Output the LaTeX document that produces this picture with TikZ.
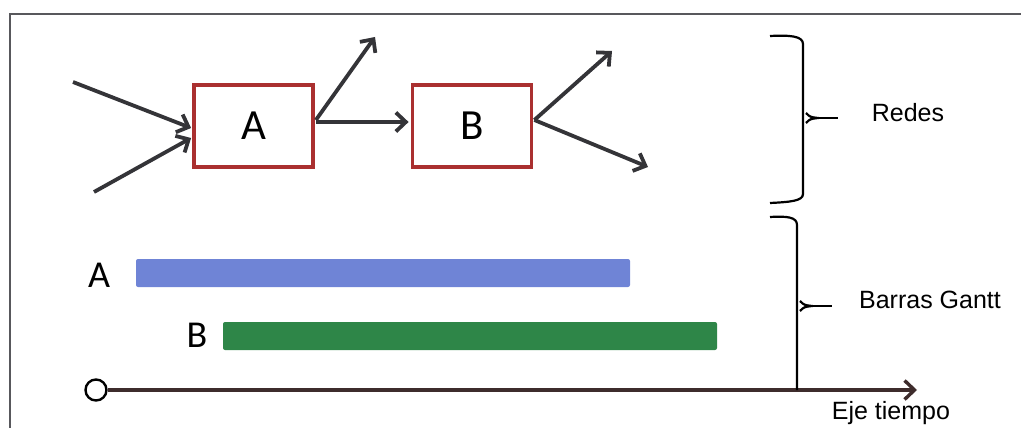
\documentclass[tikz,border=0pt]{standalone}
\usepackage{fontspec}
\setmainfont{Liberation Sans}
\newfontfamily\calibri{Carlito}
\usetikzlibrary{arrows.meta,calc}
\definecolor{boxred}{RGB}{170,48,48}
\definecolor{inkgray}{RGB}{52,52,56}
\definecolor{axisbrown}{RGB}{62,44,44}
\definecolor{barblue}{RGB}{111,132,214}
\definecolor{bargreen}{RGB}{46,134,72}
\definecolor{framegray}{RGB}{88,88,92}
\tikzset{
  actbox/.style={draw=boxred, line width=3.8pt, fill=white, minimum width=119pt,
    minimum height=82pt, inner sep=0pt, font=\calibri\fontsize{43}{43}\selectfont},
  flow/.style={draw=inkgray, line width=3.8pt,
    -{Straight Barb[length=10pt,width=19pt,line width=3.8pt]}},
  bar/.style={rounded corners=2pt, minimum width=494pt, minimum height=28pt, inner sep=0pt},
  barlabel/.style={font=\calibri\fontsize{38}{38}\selectfont, inner sep=0pt},
  brace/.style={draw=black, line width=2.2pt},
  sidelabel/.style={font=\fontsize{25}{25}\selectfont, inner sep=0pt},
}
\begin{document}
\begin{tikzpicture}[x=1pt,y=-1pt]
\useasboundingbox (0,0) rectangle (1021,428);
% outer frame
\draw[framegray, line width=2pt] (1025,14) -- (10,14) -- (10,432);

% network part
\node[actbox] (A) at (253.5,126) {A};
\node[actbox] (B) at (472,126) {B};
\coordinate (inA1) at (73,82);
\coordinate (inA2) at (94,192);
\coordinate (outA) at (375,37);
\coordinate (outB1) at (612,51);
\coordinate (outB2) at (648,167);
\draw[flow] (inA1) -- ([xshift=-1pt,yshift=-2pt]A.west);
\draw[flow] (inA2) -- ([xshift=-1pt,yshift=-12pt]A.west);
\draw[flow] ([xshift=1pt,yshift=4pt]A.east) -- ([xshift=-2pt,yshift=4pt]B.west);
\draw[flow] ([xshift=1pt,yshift=6pt]A.east) -- (outA);
\draw[flow] ([xshift=1pt,yshift=6pt]B.east) -- (outB1);
\draw[flow] ([xshift=1pt,yshift=6pt]B.east) -- (outB2);

% gantt bars
\node[bar, fill=barblue] (barA) at (383,273) {};
\node[bar, fill=bargreen] (barB) at (470,336) {};
\node[barlabel] (labA) at (99,275) {A};
\node[barlabel] (labB) at (197,335) {B};

% time axis
\node[circle, draw=black, line width=2.4pt, minimum size=21pt, inner sep=0pt, fill=white] (t0) at (96,390) {};
\coordinate (tend) at (917,390);
\draw[draw=axisbrown, line width=3.4pt,
  -{Straight Barb[length=10pt,width=19pt,line width=3.4pt]}] (t0.east) -- (tend);

% braces
\draw[brace] (770,36) .. controls (790,35) and (803,36) .. (803,44)
  -- (803,194) .. controls (803,201) and (790,202) .. (770,203);
\draw[brace] (806,113) .. controls (810,117) .. (818,118)
  .. controls (810,119) .. (806,123);
\draw[brace] (818,118) -- (838,118);
\draw[brace] (770,217) .. controls (787,216) and (797,217) .. (797,225)
  -- (797,390);
\draw[brace] (800,301) .. controls (804,305) .. (812,306)
  .. controls (804,307) .. (800,311);
\draw[brace] (812,306) -- (832,306);

\node[sidelabel] (redes) at (908,113) {Redes};
\node[sidelabel] (gantt) at (930,300) {Barras Gantt};
\node[sidelabel] (eje) at (891,413) {Eje tiempo};
\end{tikzpicture}
\end{document}
